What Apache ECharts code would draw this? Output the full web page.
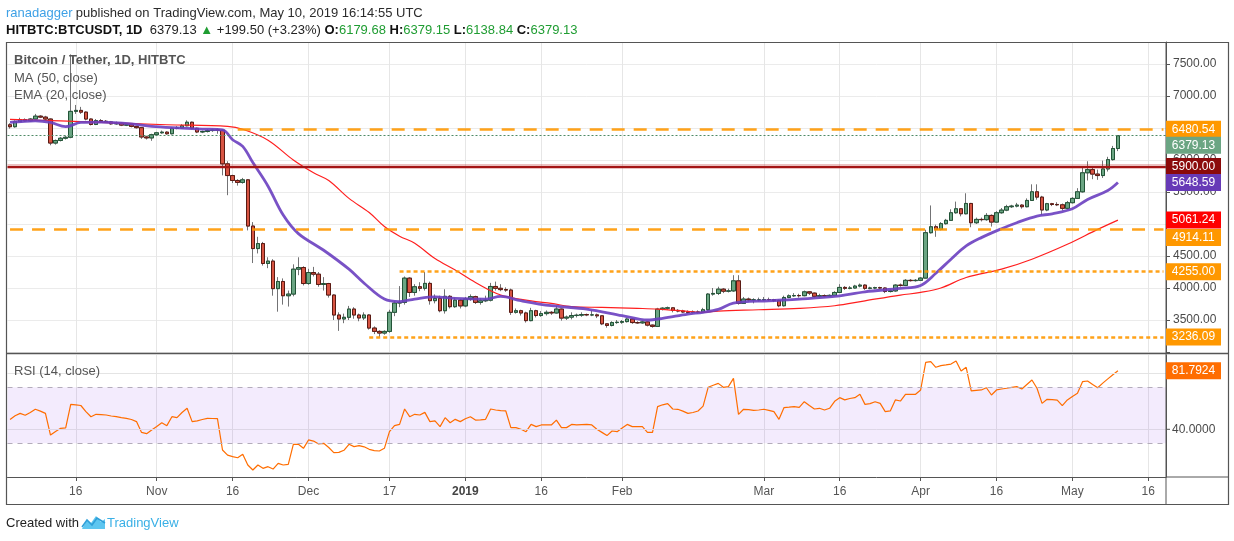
<!DOCTYPE html>
<html>
<head>
<meta charset="utf-8">
<script src="https://cdn.jsdelivr.net/npm/echarts@6/dist/echarts.min.js"></script>
<style>
html,body{margin:0;padding:0;background:#fff;}
#c{width:1234px;height:541px;}
</style>
</head>
<body>
<div id="c"></div>
<script>
// ---------------- DATA ----------------
const startDay = '2018-10-03';
const dayCount = 229; // axis runs to 2019-05-19
const firstOpen = 6550;
const closes = [
6520,6600,6632,6612,6640,6685,6670,6640,6265,6305,
6340,6355,6760,6775,6748,6640,6555,6615,6605,6595,
6565,6575,6545,6550,6525,6505,6360,6345,6395,6425,
6435,6410,6495,6500,6535,6590,6495,6438,6445,6460,
6470,6465,5940,5757,5680,5650,5690,4968,4616,4694,
4383,4420,3990,4102,3879,3905,4294,4320,4070,4242,
4216,4055,4070,3890,3578,3516,3542,3671,3578,3532,
3578,3374,3322,3296,3322,3620,3765,3775,4154,3930,
4020,3995,4072,3802,3838,3645,3870,3708,3810,3720,
3830,3865,3775,3800,3810,4024,3995,3975,3968,3620,
3645,3610,3490,3645,3570,3600,3620,3610,3671,3530,
3545,3570,3575,3585,3580,3580,3565,3440,3415,3460,
3465,3475,3515,3460,3455,3470,3420,3400,3670,3685,
3690,3650,3640,3625,3620,3625,3620,3660,3905,3915,
3982,3950,3955,4112,3760,3827,3815,3815,3815,3820,
3818,3805,3723,3852,3878,3882,3880,3940,3920,3870,
3880,3875,3885,3930,4009,3995,4000,4030,4045,3995,
4000,4005,4000,3945,3955,4045,4040,4120,4115,4120,
4155,4864,4957,4915,5005,5057,5176,5238,5160,5321,
5020,5072,5068,5134,5030,5176,5217,5270,5280,5295,
5270,5368,5503,5420,5219,5317,5305,5300,5245,5333,
5400,5503,5800,5850,5780,5757,5860,6006,6179.68,6379.13];
const highs = [
6575,6620,6660,6650,6655,6720,6700,6690,6650,6320,
6360,6380,7650,6860,6830,6760,6650,6640,6640,6625,
6610,6600,6590,6570,6560,6535,6515,6380,6410,6440,
6460,6450,6510,6530,6560,6620,6600,6505,6460,6480,
6490,6490,6480,5980,5770,5700,5720,5700,5030,4800,
4720,4480,4450,4170,4150,3960,4370,4480,4340,4300,
4330,4250,4170,4080,3900,3620,3600,3720,3700,3600,
3620,3590,3400,3340,3340,3660,3800,4030,4180,4170,
4060,4090,4250,4100,3900,3880,3980,3890,3850,3830,
3860,3900,3880,3840,3880,4080,4100,4060,4010,3990,
3680,3660,3630,3690,3660,3640,3650,3640,3720,3680,
3570,3620,3600,3620,3600,3650,3600,3570,3450,3480,
3500,3500,3530,3530,3480,3490,3480,3430,3690,3700,
3710,3700,3670,3660,3650,3650,3650,3690,3920,4000,
4020,4000,3990,4200,4200,3860,3850,3840,3850,3860,
3850,3830,3820,3880,3900,3920,3910,3960,3950,3930,
3910,3900,3900,3950,4060,4030,4030,4050,4070,4060,
4020,4020,4020,4010,3980,4060,4070,4140,4140,4140,
4170,4910,5290,4990,5030,5080,5230,5350,5250,5480,
5330,5100,5100,5170,5150,5200,5250,5300,5300,5330,
5310,5400,5620,5620,5440,5330,5330,5340,5320,5360,
5420,5560,5880,5980,5900,5850,5990,6050,6220,6379.15];
const lows = [
6490,6505,6590,6600,6600,6630,6655,6620,6230,6240,
6290,6320,6340,6720,6720,6620,6540,6545,6590,6580,
6550,6550,6530,6530,6510,6490,6330,6320,6300,6380,
6410,6395,6400,6480,6490,6525,6480,6420,6420,6430,
6440,6410,5760,5450,5640,5600,5630,4900,4390,4540,
4350,4310,3880,3630,3740,3710,3870,4200,4040,4050,
4180,4020,3960,3850,3500,3330,3450,3500,3520,3480,
3500,3350,3280,3236.09,3270,3300,3560,3700,3740,3860,
3880,3950,3960,3740,3760,3620,3600,3680,3690,3680,
3700,3800,3750,3740,3780,3790,3960,3950,3940,3580,
3600,3570,3460,3480,3540,3550,3570,3580,3600,3490,
3500,3510,3540,3550,3560,3560,3530,3420,3380,3400,
3440,3440,3460,3440,3440,3440,3400,3380,3390,3650,
3660,3620,3620,3610,3600,3600,3600,3610,3640,3880,
3890,3920,3930,3940,3740,3750,3790,3760,3790,3800,
3800,3780,3700,3710,3840,3860,3850,3870,3890,3850,
3850,3855,3860,3870,3920,3970,3980,3990,4010,3970,
3980,3980,3980,3920,3930,3940,4020,4030,4100,4100,
4110,4150,4850,4800,4900,4990,5050,5160,5120,5150,
4950,5000,5040,5050,4960,5020,5160,5200,5250,5260,
5240,5260,5360,5380,5140,5200,5280,5280,5210,5230,
5320,5390,5490,5680,5700,5690,5720,5820,5990,6138.84];
// MA(50) and EMA(20): [day index, value]
const ma50Pts = [[0,6635],[10,6610],[18,6587],[31,6551],[43,6525],[46,6480],[51,6310],[56,6000],[60,5800],[63,5680],[67,5400],[71,5180],[74,4960],[77,4810],[80,4700],[84,4460],[88,4280],[92,4086],[97,3890],[103,3800],[107,3760],[111,3710],[117,3697],[124,3682],[128,3671],[134,3635],[137,3619],[140,3640],[148,3660],[156,3682],[163,3723],[169,3800],[176,3889],[180,3931],[184,4000],[189,4164],[196,4294],[202,4450],[209,4683],[215,4916],[219,5061.24]];
const ema20Pts = [[0,6587],[5,6613],[8,6587],[11,6520],[14,6587],[18,6592],[24,6566],[28,6525],[34,6499],[38,6483],[42,6470],[44,6317],[46,6213],[48,5960],[51,5591],[54,5140],[57,4850],[62,4590],[67,4294],[70,4075],[74,3827],[77,3788],[80,3827],[84,3860],[88,3837],[94,3827],[97,3868],[101,3801],[107,3723],[114,3671],[121,3568],[126,3500],[129,3526],[134,3593],[137,3620],[140,3665],[143,3765],[150,3801],[156,3827],[163,3868],[169,3941],[176,3993],[180,4040],[183,4230],[186,4450],[189,4657],[192,4787],[196,4927],[199,5020],[203,5124],[206,5160],[210,5238],[213,5383],[217,5523],[219,5648.59]];
const rsi = [
47,49.7,51.4,50,52,54.3,53,51.4,35.9,38.5,
40.7,41,57.8,57.4,57,52.6,49,50.7,50.5,50.2,
49.5,49,48.3,47.8,47,45.5,37.8,36.9,39.5,42,
44.7,42.6,49,48.3,52,55,45.5,46,47,47.8,
47.7,47.6,25.2,21.6,20.5,19.7,22.1,14.5,10.9,14.5,
12.1,13.3,11.6,15.7,14.5,15,29.3,29.3,26.4,32.4,
31.6,29.5,30,27,23.3,23.5,25,29.3,27.6,28.3,
27.5,25.7,24.8,24.5,26.4,38.3,42.6,43.5,54.5,49,
50.7,50.2,52.1,45.5,46,41.9,48.3,44.7,47.1,45.5,
47.5,49,46.6,46.8,47.1,54.5,53.8,53.4,53.1,41.2,
41.2,40,38.3,43.5,41.9,43.1,43.1,43.1,46.6,41.2,
41.2,43.5,43.1,43.3,43.5,43.1,40,37.8,35.5,38.8,
38.3,41,43.5,41.9,41.9,41.9,37.8,37.8,56.2,57.5,
58.3,54.5,54.3,53,51.4,52,53.1,56.6,70,71.5,
72.8,70,70.5,76.4,50.7,54.3,54,53.5,53.8,54.3,
53.5,52.6,47.1,55.5,55.8,56.2,55.7,59.7,57,54.5,
55,53.8,55,60,62.6,61,62,62.6,65,57.8,
58.3,59.7,58.5,52.6,53.1,61,60.2,65,65,65,
68.1,87.8,88.3,84.3,85.5,86,86.6,88.8,81.6,84.3,
67.4,67.8,68.1,69.7,64.5,68.1,68.8,69.3,70,70.5,
68.8,72,75.2,69.3,58.5,61.4,61.2,60.9,56.9,61,
63.5,65.7,74,74.5,72,69.7,73,76,79,81.7924];
// horizontal levels: [value, start date (null = full width)]
const levelDashed = [[6480.54,'2018-11-17'],[4914.11,null]];
const levelDotted = [[4255.00,'2018-12-19'],[3236.09,'2018-12-13']];
const levelSolid = 5900.00;
const priceTicks = [3500,4000,4500,5000,5500,6000,6500,7000,7500];
const dateLabels = {'2018-10-16':'16','2018-11-01':'Nov','2018-11-16':'16','2018-12-01':'Dec','2018-12-17':'17','2019-01-01':'2019','2019-01-16':'16','2019-02-01':'Feb','2019-03-01':'Mar','2019-03-16':'16','2019-04-01':'Apr','2019-04-16':'16','2019-05-01':'May','2019-05-16':'16'};
const quote = {sym:'HITBTC:BTCUSDT, 1D', last:'6379.13', chg:'+199.50 (+3.23%)', o:'6179.68', h:'6379.15', l:'6138.84', c:'6379.13'};

// ---------------- BUILD ----------------
const cats = [];
{
  const t0 = Date.parse(startDay + 'T00:00:00Z');
  for (let k = 0; k < dayCount; k++) cats.push(new Date(t0 + k * 86400000).toISOString().slice(0, 10));
}
const lastCat = cats[cats.length - 1];
const opens = closes.map((c, i) => i === 0 ? firstOpen : closes[i - 1]);
const candleFull = closes.map((c, i) => [opens[i], c, lows[i], highs[i]]);
const candleBody = closes.map((c, i) => [opens[i], c, Math.min(opens[i], c), Math.max(opens[i], c)]);
const maLine = ma50Pts.map(p => [cats[p[0]], p[1]]);
const emaLine = ema20Pts.map(p => [cats[p[0]], p[1]]);
const rsiLine = rsi.map((v, i) => [cats[i], v]);
const isLbl = (idx, val) => dateLabels[val] !== undefined;

const FONT = '"Liberation Sans", Arial, sans-serif';
const chart = echarts.init(document.getElementById('c'), null, {renderer: 'canvas'});

const levelLines = [];
levelDashed.forEach(l => {
  const st = {lineStyle: {color: '#ff9800', type: [13, 9], width: 2.5, opacity: 0.9}};
  levelLines.push([Object.assign({coord: [l[1] || cats[0], l[0]]}, st), {coord: [lastCat, l[0]]}]);
});
levelDotted.forEach(l => {
  const st = {lineStyle: {color: '#ff9800', type: [4, 3], width: 2.5, opacity: 0.9}};
  levelLines.push([Object.assign({coord: [l[1], l[0]]}, st), {coord: [lastCat, l[0]]}]);
});
levelLines.push({yAxis: levelSolid, lineStyle: {color: 'rgba(183,28,28,0.28)', type: 'solid', width: 5}});
levelLines.push({yAxis: levelSolid, lineStyle: {color: '#a31515', type: 'solid', width: 2}});
levelLines.push({yAxis: closes[closes.length - 1], lineStyle: {color: '#4f8a66', type: [2, 2], width: 1}});

const option = {
  animation: false,
  backgroundColor: '#fff',
  textStyle: {fontFamily: FONT},
  grid: [
    {left: 7.5, right: 68, top: 42, height: 310},
    {left: 7.5, right: 68, top: 355, height: 122}
  ],
  xAxis: [
    {type: 'category', gridIndex: 0, data: cats, boundaryGap: true,
     axisLine: {show: false}, axisTick: {show: false}, axisLabel: {show: false},
     splitLine: {show: true, interval: isLbl, alignWithLabel: true, lineStyle: {color: '#e6e6e6', width: 1}}},
    {type: 'category', gridIndex: 1, data: cats, boundaryGap: true,
     axisLine: {show: true, lineStyle: {color: '#555', width: 1}},
     axisTick: {show: true, interval: isLbl, alignWithLabel: true, length: 4, lineStyle: {color: '#555'}},
     axisLabel: {show: true, interval: isLbl, color: '#555', fontSize: 12, margin: 9, fontFamily: FONT,
       formatter: v => dateLabels[v] === '2019' ? '{b|2019}' : (dateLabels[v] || ''),
       rich: {b: {fontWeight: 'bold', color: '#444', fontSize: 12, fontFamily: FONT}}},
     splitLine: {show: true, interval: isLbl, alignWithLabel: true, lineStyle: {color: '#e6e6e6', width: 1}}}
  ],
  yAxis: [
    {type: 'value', gridIndex: 0, position: 'right', min: 3000, max: 7843.75, interval: 500, scale: false,
     axisLine: {show: true, lineStyle: {color: '#555'}},
     axisTick: {show: true, length: 4, lineStyle: {color: '#555'}},
     axisLabel: {color: '#4a4a4a', fontSize: 12, margin: 7, fontFamily: FONT,
       formatter: v => priceTicks.indexOf(v) >= 0 ? v.toFixed(2) : ''},
     splitLine: {show: true, lineStyle: {color: '#ebebeb'}}},
    {type: 'value', gridIndex: 1, position: 'right', min: 5.93, max: 93.07,
     axisLine: {show: true, lineStyle: {color: '#555'}},
     axisTick: {show: false}, axisLabel: {show: false}, splitLine: {show: false}}
  ],
  series: [
    {name: 'wick', type: 'candlestick', xAxisIndex: 0, yAxisIndex: 0, data: candleFull, barWidth: 4, z: 2,
     itemStyle: {color: '#6ba583', color0: '#d75442', borderColor: '#737375', borderColor0: '#737375', borderWidth: 1}},
    {name: 'body', type: 'candlestick', xAxisIndex: 0, yAxisIndex: 0, data: candleBody, barWidth: 4, z: 3,
     itemStyle: {color: '#6ba583', color0: '#d75442', borderColor: '#225437', borderColor0: '#5b1a13', borderWidth: 1},
     markLine: {silent: true, symbol: 'none', animation: false, label: {show: false}, data: levelLines}},
    {name: 'MA50', type: 'line', xAxisIndex: 0, yAxisIndex: 0, data: maLine, smooth: 0.35, showSymbol: false, z: 4,
     lineStyle: {color: '#ff1f1f', width: 1.2}},
    {name: 'EMA20', type: 'line', xAxisIndex: 0, yAxisIndex: 0, data: emaLine, smooth: 0.35, showSymbol: false, z: 4,
     lineStyle: {color: '#6a3fc0', width: 2.8, opacity: 0.9}},
    {name: 'RSI', type: 'line', xAxisIndex: 1, yAxisIndex: 1, data: rsiLine, showSymbol: false, z: 4,
     lineStyle: {color: '#ff6d00', width: 1.2},
     markArea: {silent: true, itemStyle: {color: 'rgba(149,76,233,0.11)'}, data: [[{yAxis: 30}, {yAxis: 70}]]},
     markLine: {silent: true, symbol: 'none', animation: false, label: {show: false}, data: [
       {yAxis: 80, lineStyle: {color: '#e4e4e4', type: 'solid', width: 1}},
       {yAxis: 40, lineStyle: {color: '#ddd6e6', type: 'solid', width: 1}},
       {yAxis: 70, lineStyle: {color: '#b3acbb', type: [5, 5], width: 1}},
       {yAxis: 30, lineStyle: {color: '#b3acbb', type: [5, 5], width: 1}}
     ]}}
  ]
};
chart.setOption(option);

// ------------- text, frame and axis badges -------------
const g = [];
const txt = (x, y, text, style) => g.push({type: 'text', x: x, y: y, z: 50, silent: true,
  style: Object.assign({text: text, font: '13px ' + FONT, fill: '#333', textVerticalAlign: 'middle'}, style)});

g.push({type: 'text', x: 6, y: 13, z: 50, silent: true, style: {
  text: '{a|ranadagger} {b|published on TradingView.com, May 10, 2019 16:14:55 UTC}', textVerticalAlign: 'middle',
  rich: {a: {fill: '#3ea1e6', font: '13px ' + FONT}, b: {fill: '#2b2b2b', font: '13px ' + FONT}}}});
g.push({type: 'text', x: 6, y: 30, z: 50, silent: true, style: {
  text: '{k|' + quote.sym + '}{n|  ' + quote.last + ' }{g|▲}{n| ' + quote.chg + ' }{k|O:}{v|' + quote.o + '}{k| H:}{v|' + quote.h + '}{k| L:}{v|' + quote.l + '}{k| C:}{v|' + quote.c + '}',
  textVerticalAlign: 'middle',
  rich: {k: {fill: '#111', font: 'bold 13px ' + FONT}, n: {fill: '#222', font: '13px ' + FONT},
         g: {fill: '#1f9d32', font: '13px ' + FONT}, v: {fill: '#1f9d32', font: '13px ' + FONT}}}});

txt(14, 60, 'Bitcoin / Tether, 1D, HITBTC', {font: 'bold 13px ' + FONT, fill: '#555'});
txt(14, 78, 'MA (50, close)', {fill: '#555'});
txt(14, 95, 'EMA (20, close)', {fill: '#555'});
txt(14, 371, 'RSI (14, close)', {fill: '#555'});

// frame
const ln = (x1, y1, x2, y2, c, w) => g.push({type: 'line', z: 40, silent: true, shape: {x1, y1, x2, y2}, style: {stroke: c, lineWidth: w}});
g.push({type: 'rect', z: 40, silent: true, shape: {x: 6.5, y: 42.5, width: 1222, height: 462}, style: {fill: null, stroke: '#555', lineWidth: 1.2}});
ln(1166, 42, 1166, 504, '#555', 1);
ln(6, 353.5, 1228, 353.5, '#555', 1.5);
ln(1166, 477, 1228, 477, '#555', 1);

// right-side value badges (positions from the axes' own scales)
const badge = (yAxisIndex, value, text, color, nudge) => {
  const y = chart.convertToPixel({yAxisIndex: yAxisIndex}, value) + (nudge || 0);
  g.push({type: 'rect', z: 45, silent: true, shape: {x: 1166, y: y - 8.5, width: 55, height: 17}, style: {fill: color}});
  g.push({type: 'text', z: 46, silent: true, x: 1193.5, y: y, style: {text: text, font: '12px ' + FONT, fill: '#fff', textAlign: 'center', textVerticalAlign: 'middle'}});
};
badge(0, levelDashed[0][0], levelDashed[0][0].toFixed(2), '#ff9800', 0);
badge(0, closes[closes.length - 1], closes[closes.length - 1].toFixed(2), '#6ba583', 9.5);
badge(0, levelSolid, levelSolid.toFixed(2), '#8b0a0a', 0);
badge(0, ema20Pts[ema20Pts.length - 1][1], ema20Pts[ema20Pts.length - 1][1].toFixed(2), '#673ab7', 0);
badge(0, ma50Pts[ma50Pts.length - 1][1], ma50Pts[ma50Pts.length - 1][1].toFixed(2), '#ff0000', 0);
badge(0, levelDashed[1][0], levelDashed[1][0].toFixed(2), '#ff9800', 8);
badge(0, levelDotted[0][0], levelDotted[0][0].toFixed(2), '#ff9800', 0);
badge(0, levelDotted[1][0], levelDotted[1][0].toFixed(2), '#ff9800', 0);
badge(1, rsi[rsi.length - 1], rsi[rsi.length - 1].toFixed(4), '#ff6d00', 0);
{
  const y40 = chart.convertToPixel({yAxisIndex: 1}, 40);
  ln(1166, y40, 1170, y40, '#555', 1);
  txt(1172, y40, '40.0000', {font: '12px ' + FONT, fill: '#4a4a4a'});
}

// footer
txt(6, 523, 'Created with', {fill: '#222'});
g.push({type: 'polygon', z: 50, silent: true, shape: {points: [[82,529],[87,520],[91,523],[96,516],[101,522],[105,519],[105,529]]}, style: {fill: '#5ec6f0'}});
g.push({type: 'polyline', z: 51, silent: true, shape: {points: [[82,527],[87,520],[92,525],[97,518],[105,523]]}, style: {stroke: '#2f9fd8', lineWidth: 1.5, fill: null}});
txt(107, 523, 'TradingView', {fill: '#3ab0e6'});

chart.setOption({graphic: {elements: g}});
</script>
</body>
</html>
